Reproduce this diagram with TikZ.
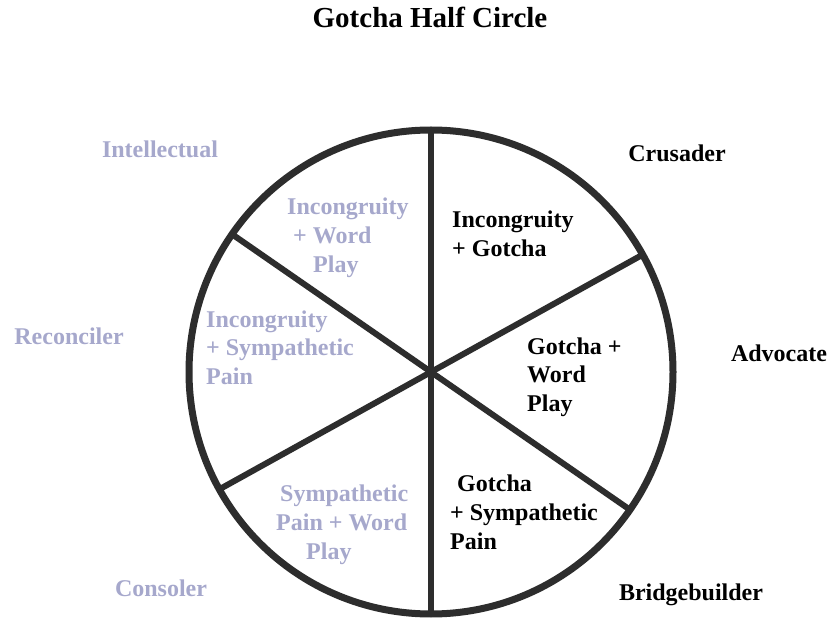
\documentclass[tikz,border=0pt]{standalone}
\usepackage{fontspec}
\setmainfont{Liberation Serif}
\definecolor{faded}{RGB}{166,168,204}
\definecolor{ring}{RGB}{45,45,45}
\tikzset{
  lbl/.style={font=\fontsize{24}{29}\selectfont\bfseries, inner sep=0pt},
  dark/.style={lbl, text=black},
  light/.style={lbl, text=faded},
  ttl/.style={font=\fontsize{29}{34}\selectfont\bfseries, inner sep=0pt, text=black},
  rim/.style={draw=ring, line width=7pt},
  spoke/.style={draw=ring, line width=6pt}
}
\begin{document}
\begin{tikzpicture}[x=1pt,y=-1pt]
\useasboundingbox (0,0) rectangle (828,628);
\fill[white] (0,0) rectangle (828,628);
\coordinate (c) at (431,372);
% spokes
\coordinate (top) at ([shift={(c)}]90:242pt);
\coordinate (bot) at ([shift={(c)}]270:242pt);
\coordinate (ul) at ([shift={(c)}]145.3:242pt);
\coordinate (lr) at ([shift={(c)}]325.3:242pt);
\coordinate (ur) at ([shift={(c)}]29:242pt);
\coordinate (ll) at ([shift={(c)}]209:242pt);
\draw[spoke] (top) -- (bot);
\draw[spoke] (ul) -- (lr);
\draw[spoke] (ur) -- (ll);
\draw[rim] (c) circle[radius=242pt];
% title
\node[ttl, anchor=base] (title) at (430,28) {Gotcha Half Circle};
% outer labels
\node[light, anchor=base] (intel) at (160,158) {Intellectual};
\node[dark, anchor=base] (crus) at (677,162) {Crusader};
\node[light, anchor=base] (recon) at (69,345) {Reconciler};
\node[dark, anchor=base] (advo) at (779,362) {Advocate};
\node[light, anchor=base] (cons) at (161,596) {Consoler};
\node[dark, anchor=base] (bridge) at (691,600) {Bridgebuilder};
% inner labels (base anchor = last line)
\node[light, anchor=base west, align=left] (s1) at (287,273) {Incongruity\\\hspace*{6pt}+ Word\\\hspace*{26pt}Play};
\node[dark, anchor=base west, align=left] (s2) at (452,257) {Incongruity\\+ Gotcha};
\node[light, anchor=base west, align=left] (s3) at (206,385) {Incongruity\\+ Sympathetic\\Pain};
\node[dark, anchor=base west, align=left] (s4) at (527,412) {Gotcha +\\Word\\Play};
\node[light, anchor=base west, align=left] (s5) at (276,559) {\hspace*{4pt}Sympathetic\\Pain + Word\\\hspace*{30pt}Play};
\node[dark, anchor=base west, align=left] (s6) at (450,549) {\hspace*{7pt}Gotcha\\+ Sympathetic\\Pain};
\end{tikzpicture}
\end{document}
